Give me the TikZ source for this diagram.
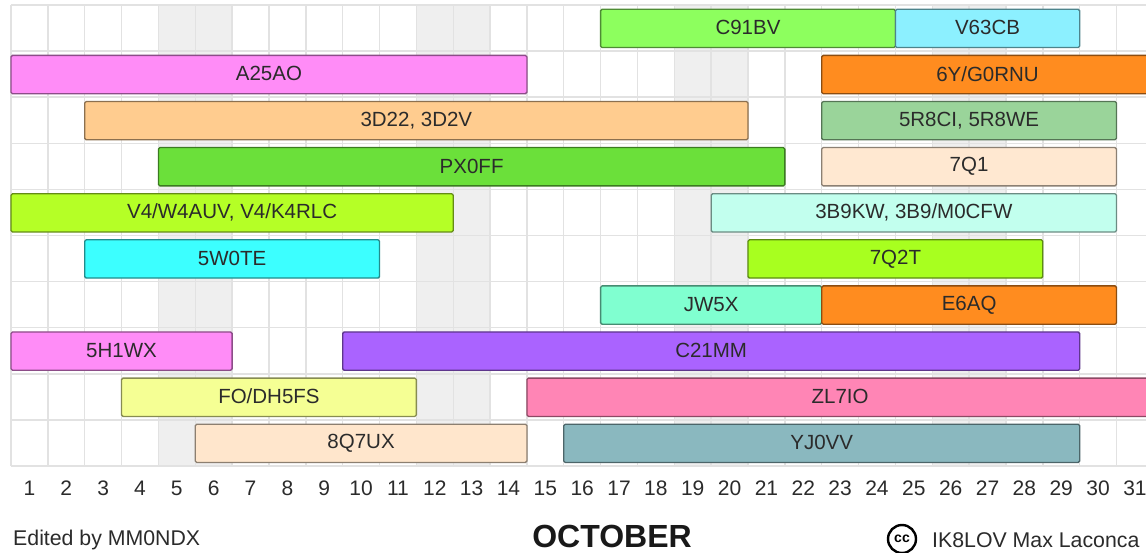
\documentclass[tikz,border=0pt]{standalone}
\usepackage{fontspec}
\setmainfont{Liberation Sans}
\definecolor{gridc}{HTML}{E2E2E2}
\definecolor{wk}{HTML}{EFEFEF}
\definecolor{txt}{HTML}{2B2B2B}
\definecolor{cC91BV}{HTML}{8DFF5E}
\definecolor{cV63CB}{HTML}{8CF0FF}
\definecolor{cA25AO}{HTML}{FF8CF7}
\definecolor{cORA}{HTML}{FF8C1F}
\definecolor{c3D22}{HTML}{FFCC8F}
\definecolor{c5R8}{HTML}{9AD49A}
\definecolor{cPX0FF}{HTML}{6BE03A}
\definecolor{c7Q1}{HTML}{FFE8D1}
\definecolor{cV4}{HTML}{B5FF26}
\definecolor{c3B9}{HTML}{C2FFEE}
\definecolor{c5W0TE}{HTML}{3CFFFF}
\definecolor{c7Q2T}{HTML}{A8FF1F}
\definecolor{cJW5X}{HTML}{80FFD0}
\definecolor{cC21MM}{HTML}{AA63FF}
\definecolor{cFODH}{HTML}{F5FF94}
\definecolor{cZL7IO}{HTML}{FF85B5}
\definecolor{c8Q7UX}{HTML}{FFE6CC}
\definecolor{cYJ0VV}{HTML}{8AB8BF}
\tikzset{
  gridline/.style={draw=gridc, line width=1.4pt},
  wkend/.style={fill=wk},
  barbox/.style={rectangle, rounded corners=1.5pt, line width=1.3pt, inner sep=0pt,
     text=txt, font=\fontsize{20.5}{24}\selectfont},
  daylbl/.style={text=txt, inner sep=0pt, font=\fontsize{21}{24}\selectfont},
  foot/.style={text=txt, inner sep=0pt, anchor=west, font=\fontsize{21.3}{24}\selectfont},
}
\newcommand\gbar[6]{%
  \pgfmathsetmacro\xa{11+(#2-1)*36.85}%
  \pgfmathsetmacro\xb{11+(#3)*36.85}%
  \pgfmathsetmacro\ya{5+(#4)*46.1+4.3}%
  \pgfmathsetmacro\yb{5+(#4)*46.1+42.6}%
  \pgfmathsetmacro\bw{\xb-\xa}%
  \pgfmathsetmacro\bh{\yb-\ya}%
  \node[barbox, fill=#5, draw=#5!55!black, minimum width=\bw pt, minimum height=\bh pt]
    (#1) at ({(\xa+\xb)/2},{(\ya+\yb)/2}) {\raisebox{1.5pt}{#6}};%
}
\begin{document}
\begin{tikzpicture}[x=1pt,y=-1pt]
\useasboundingbox (0,0) rectangle (1146,553);
\clip (0,0) rectangle (1146,553);
\fill[white] (0,0) rectangle (1146,553);
% weekends
\foreach \d in {5,12,19,26}
  \fill[wkend] ({11+(\d-1)*36.85},5) rectangle ({11+(\d+1)*36.85},466);
% grid
\foreach \k in {0,...,31}
  \draw[gridline] ({11+\k*36.85},5) -- ({11+\k*36.85},466);
\foreach \j in {0,...,10}
  \draw[gridline] (11,{5+\j*46.1}) -- (1160,{5+\j*46.1});
% bars
\gbar{bCnineone}{17}{24}{0}{cC91BV}{C91BV}
\gbar{bVsix}{25}{29}{0}{cV63CB}{V63CB}
\gbar{bAtwo}{1}{14}{1}{cA25AO}{A25AO}
\gbar{bSixY}{23}{31}{1}{cORA}{6Y/G0RNU}
\gbar{bThreeD}{3}{20}{2}{c3D22}{3D22, 3D2V}
\gbar{bFiveR}{23}{30}{2}{c5R8}{5R8CI, 5R8WE}
\gbar{bPX}{5}{21}{3}{cPX0FF}{PX0FF}
\gbar{bSevenQone}{23}{30}{3}{c7Q1}{7Q1}
\gbar{bVfour}{1}{12}{4}{cV4}{V4/W4AUV, V4/K4RLC}
\gbar{bThreeB}{20}{30}{4}{c3B9}{3B9KW, 3B9/M0CFW}
\gbar{bFiveW}{3}{10}{5}{c5W0TE}{5W0TE}
\gbar{bSevenQtwo}{21}{28}{5}{c7Q2T}{7Q2T}
\gbar{bJW}{17}{22}{6}{cJW5X}{JW5X}
\gbar{bEsix}{23}{30}{6}{cORA}{E6AQ}
\gbar{bFiveH}{1}{6}{7}{cA25AO}{5H1WX}
\gbar{bCtwo}{10}{29}{7}{cC21MM}{C21MM}
\gbar{bFO}{4}{11}{8}{cFODH}{FO/DH5FS}
\gbar{bZL}{15}{31}{8}{cZL7IO}{ZL7IO}
\gbar{bEightQ}{6}{14}{9}{c8Q7UX}{8Q7UX}
\gbar{bYJ}{16}{29}{9}{cYJ0VV}{YJ0VV}
% day labels
\foreach \d in {1,...,31}
  \node[daylbl] (day\d) at ({11+(\d-0.5)*36.85},488) {\d};
% footer
\node[foot] (edited) at (13,540) {Edited by MM0NDX};
\node[inner sep=0pt, text=black!90, font=\bfseries\fontsize{32}{36}\selectfont] (month) at (612,536) {OCTOBER};
\node[circle, draw=black, line width=2.4pt, minimum size=28pt, inner sep=0pt,
      font=\bfseries\fontsize{14}{14}\selectfont] (cc) at (902,539) {\raisebox{1pt}{cc}};
\node[foot] (author) at (932,540) {IK8LOV Max Laconca};
\end{tikzpicture}
\end{document}
